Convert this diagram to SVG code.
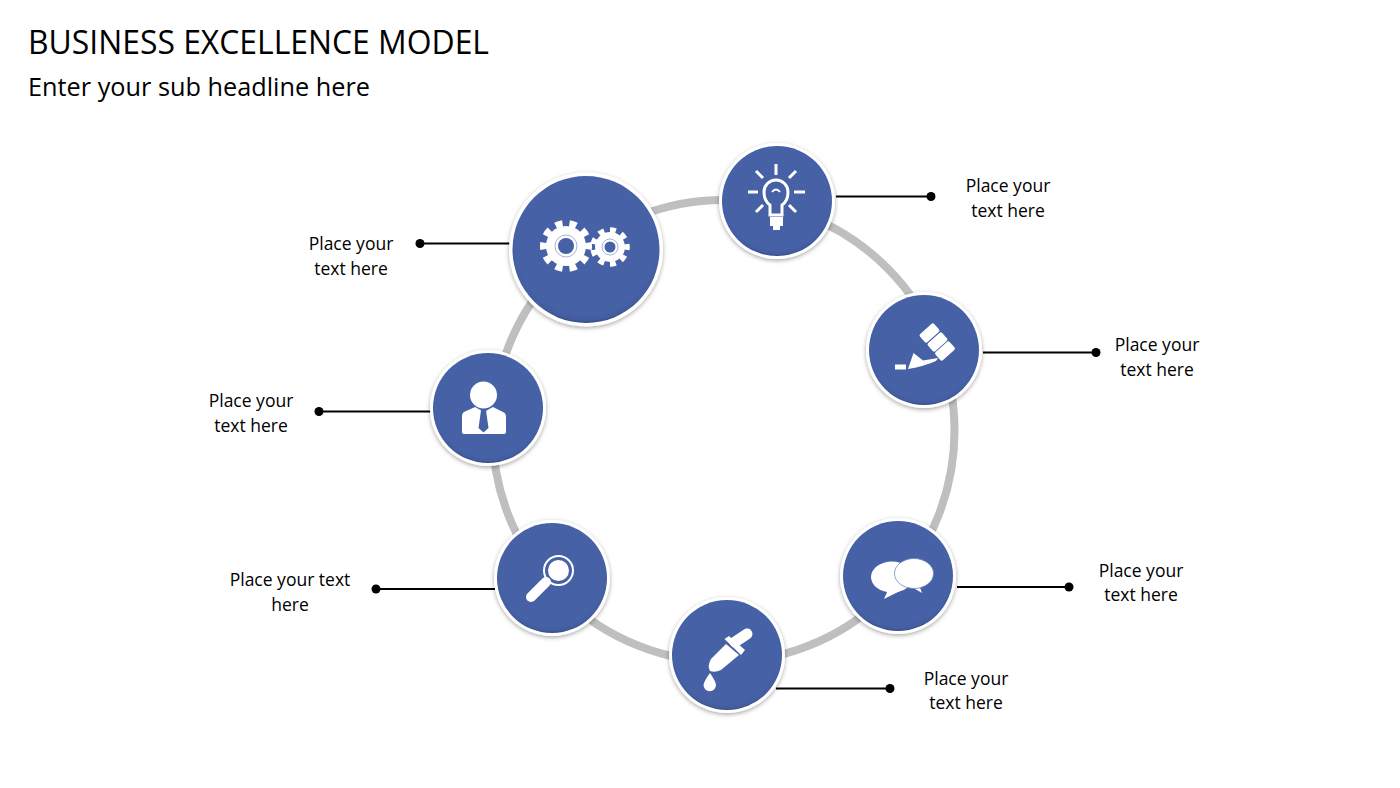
<svg xmlns="http://www.w3.org/2000/svg" width="1400" height="788" viewBox="0 0 1400 788">
<defs>
<radialGradient id="disc" cx="50%" cy="46%" r="55%">
<stop offset="0.88" stop-color="#4661a6"/><stop offset="0.95" stop-color="#425c9e"/><stop offset="1" stop-color="#2b3f70"/>
</radialGradient>
<filter id="sh" x="-20%" y="-20%" width="140%" height="140%"><feDropShadow dx="0" dy="1.5" stdDeviation="2" flood-color="#000" flood-opacity="0.35"/></filter>
</defs>
<style>
text{font-family:"Open Sans","Noto Sans","Liberation Sans",sans-serif;fill:#000}
.lbl{font-size:17.500px;text-anchor:middle}
.ring{fill:none;stroke:#bfbfbf;stroke-width:8}
.lead{stroke:#000;stroke-width:2}
.halo{fill:#fff;filter:url(#sh)}
.disc{fill:url(#disc)}
.ic{fill:#fff}
.ln{fill:none;stroke:#fff;stroke-linecap:butt}
</style>
<rect width="1400" height="788" fill="#fff"/>
<text x="28" y="54" font-size="33" textLength="461" lengthAdjust="spacingAndGlyphs">BUSINESS EXCELLENCE MODEL</text>
<text x="28" y="96" font-size="25" textLength="342" lengthAdjust="spacingAndGlyphs">Enter your sub headline here</text>
<g id="connectors">
<circle class="ring" cx="723.500" cy="431" r="231"/>
<path class="lead" d="M420 243.500H510M836 196.500H931M983 352.500H1096M319 411.500H431M376 589H495M957 587H1069M776 688.500H890"/>
<g fill="#000"><circle cx="420" cy="243.500" r="4.500"/><circle cx="931" cy="196.500" r="4.500"/><circle cx="1096" cy="352.500" r="4.500"/><circle cx="319" cy="411.500" r="4.500"/><circle cx="376" cy="589" r="4.500"/><circle cx="1069" cy="587" r="4.500"/><circle cx="890" cy="688.500" r="4.500"/></g>
</g>
<g id="node-gears">
<circle class="halo" cx="586" cy="249.500" r="77"/><circle class="disc" cx="586" cy="249.500" r="73.500"/>
<circle class="ic" cx="566" cy="246" r="20"/><circle cx="566" cy="246" r="22.500" fill="none" stroke="#fff" stroke-width="7" pathLength="100" stroke-dasharray="5 5" stroke-dashoffset="2.500"/>
<circle cx="566" cy="246" r="11" fill="none" stroke="#8fa0cc" stroke-width="0.800"/><circle cx="566" cy="246" r="8" fill="#4661a6"/>
<circle class="ic" cx="610" cy="247" r="15"/><circle cx="610" cy="247" r="17" fill="none" stroke="#fff" stroke-width="5.500" pathLength="90" stroke-dasharray="5 5" stroke-dashoffset="2.500"/>
<circle cx="610" cy="247" r="8" fill="none" stroke="#8fa0cc" stroke-width="0.800"/><circle cx="610" cy="247" r="5.500" fill="#4661a6"/>
</g>
<g id="node-bulb">
<circle class="halo" cx="777" cy="201" r="58"/><circle class="disc" cx="777" cy="201" r="55"/>
<path class="ln" stroke-width="3" d="M770 215V205Q764 201 764 192A12 12 0 1 1 788 192Q788 201 782 205V215Z"/>
<path class="ln" stroke-width="2" d="M772 192Q776 187 780 192"/>
<path class="ic" d="M770 217H783V226H780V230H773V226H770Z"/>
<path class="ln" stroke-width="3" d="M776 164V175M756 171L763 178M796 171L789 178M748 192H758M794 192H805M756 212L763 205M796 212L789 205"/>
</g>
<g id="node-pen">
<circle class="halo" cx="924" cy="350" r="58"/><circle class="disc" cx="924" cy="350" r="55"/>
<g class="ic"><rect x="-9.500" y="-5.500" width="19" height="11" rx="2" transform="translate(929.500 333) rotate(-42)"/><rect x="-9.500" y="-5.500" width="19" height="11" rx="2" transform="translate(937.500 342) rotate(-42)"/><rect x="-9.500" y="-5.500" width="19" height="11" rx="2" transform="translate(945 351) rotate(-42)"/>
<path d="M908 369L913.500 353L923 360.500L938 358L936 361Q925 366 908 369Z"/><rect x="895" y="364.500" width="11" height="5"/></g>
</g>
<g id="node-chat">
<circle class="halo" cx="898" cy="576" r="58"/><circle class="disc" cx="898" cy="576" r="55"/>
<g class="ic"><ellipse cx="892" cy="577" rx="21" ry="15.500"/><path d="M888 590L884 599L902 590Z"/>
<path d="M910 586L922 593L918 582Z"/></g>
<ellipse cx="914" cy="573.500" rx="19.500" ry="15" fill="#fff" stroke="#6f86bb" stroke-width="0.800"/>
</g>
<g id="node-dropper">
<circle class="halo" cx="727" cy="655" r="58"/><circle class="disc" cx="727" cy="655" r="55"/>
<g class="ic"><path d="M735 642L747 634" stroke="#fff" stroke-width="11" stroke-linecap="round"/><path d="M724.500 639L729 636L745 650L741 655Z"/>
<path d="M726 644L739 655L721 670Q715 673 710 671Q707 666 711 659Z"/>
<path d="M710 673Q716 682 716 685A6 6 0 0 1 703.500 685Q704 681 710 673Z"/></g>
</g>
<g id="node-magnifier">
<circle class="halo" cx="552" cy="578" r="58"/><circle class="disc" cx="552" cy="578" r="55"/>
<circle cx="558.500" cy="570.500" r="14.500" fill="none" stroke="#fff" stroke-width="2"/><circle class="ic" cx="558.500" cy="570.500" r="10.500"/>
<path d="M546 582L531 597" stroke="#fff" stroke-width="10" stroke-linecap="round"/>
</g>
<g id="node-person">
<circle class="halo" cx="488" cy="408" r="58"/><circle class="disc" cx="488" cy="408" r="55"/>
<circle class="ic" cx="483.500" cy="395" r="13.500"/>
<path class="ic" d="M464 412L475 407L484 412L493 407L503 412Q506 413 506 417V432Q506 434 504 434H464Q462 434 462 432V417Q462 413 464 412Z"/>
<path fill="#4661a6" d="M481 410H486L486.500 414L488.500 428L483.500 432.500L478.500 428L480.500 414Z"/>
</g>
<g id="label-gears"><text class="lbl" x="351" y="250">Place your</text><text class="lbl" x="351" y="275">text here</text></g>
<g id="label-bulb"><text class="lbl" x="1008" y="192">Place your</text><text class="lbl" x="1008" y="217">text here</text></g>
<g id="label-pen"><text class="lbl" x="1157" y="351">Place your</text><text class="lbl" x="1157" y="376">text here</text></g>
<g id="label-person"><text class="lbl" x="251" y="407">Place your</text><text class="lbl" x="251" y="432">text here</text></g>
<g id="label-magnifier"><text class="lbl" x="290" y="586">Place your text</text><text class="lbl" x="290" y="611">here</text></g>
<g id="label-chat"><text class="lbl" x="1141" y="577">Place your</text><text class="lbl" x="1141" y="601">text here</text></g>
<g id="label-dropper"><text class="lbl" x="966" y="685">Place your</text><text class="lbl" x="966" y="709">text here</text></g>
</svg>
